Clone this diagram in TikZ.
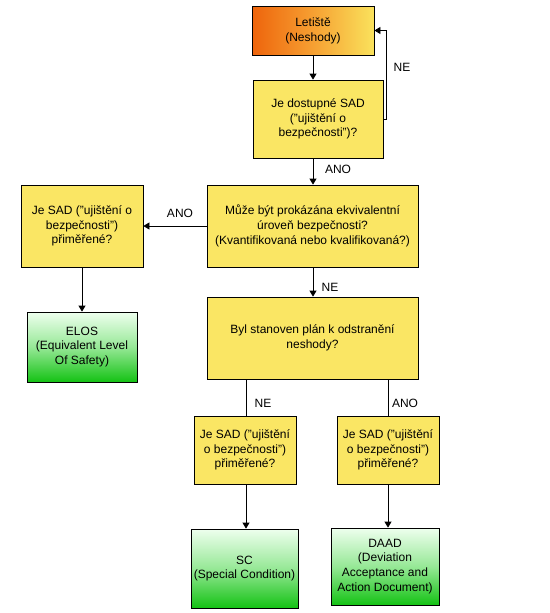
\documentclass[tikz,border=0pt]{standalone}
\usepackage{fontspec}
\setmainfont{Liberation Sans}
\usetikzlibrary{arrows.meta}
\definecolor{boxyellow}{RGB}{250,230,100}
\definecolor{orgL}{RGB}{238,100,12}
\definecolor{orgM}{RGB}{246,160,50}
\definecolor{orgR}{RGB}{250,226,92}
\definecolor{grnT}{RGB}{238,255,238}
\definecolor{grnM}{RGB}{150,232,150}
\definecolor{grnB}{RGB}{20,194,20}
\tikzset{
  box/.style={draw=black, line width=0.8pt, rectangle, align=center, inner sep=0pt,
    font=\fontsize{12}{14.8}\selectfont},
  ybox/.style={box, fill=boxyellow},
  obox/.style={box, left color=orgL, right color=orgR, middle color=orgM},
  gbox/.style={box, top color=grnT, bottom color=grnB, middle color=grnM},
  arr/.style={draw=black, line width=0.8pt, -{Triangle[length=6pt,width=7pt]}},
  ln/.style={draw=black, line width=0.8pt},
  lbl/.style={font=\fontsize{12}{14.8}\selectfont, inner sep=0pt}
}
\begin{document}
\begin{tikzpicture}[x=1pt,y=-1pt]
\useasboundingbox (0,0) rectangle (549,613);
\node[obox, minimum width=122pt, minimum height=49pt] (let) at (313,30.5) {Letiště\\(Neshody)};
\node[ybox, minimum width=130pt, minimum height=78pt] (sad) at (318,119) {Je dostupné SAD\\("ujištění o\\bezpečnosti")?};
\node[ybox, minimum width=211pt, minimum height=82pt] (q3) at (312.5,226) {Může být prokázána ekvivalentní\\úroveň bezpečnosti?\\(Kvantifikovaná nebo kvalifikovaná?)};
\node[ybox, minimum width=122pt, minimum height=82pt] (left) at (82,226) {Je SAD ("ujištění o\\bezpečnosti")\\přiměřené?};
\node[gbox, minimum width=110pt, minimum height=70pt] (elos) at (82,347) {ELOS\\(Equivalent Level\\Of Safety)};
\node[ybox, minimum width=211pt, minimum height=82pt] (plan) at (312.5,338) {Byl stanoven plán k odstranění\\neshody?};
\node[ybox, minimum width=102pt, minimum height=68pt] (sadL) at (245,450) {Je SAD ("ujištění\\o bezpečnosti")\\přiměřené?};
\node[ybox, minimum width=102pt, minimum height=68pt] (sadR) at (388,450) {Je SAD ("ujištění\\o bezpečnosti")\\přiměřené?};
\node[gbox, minimum width=107pt, minimum height=79pt] (sc) at (244.5,568.5) {SC\\(Special Condition)};
\node[gbox, minimum width=108pt, minimum height=77pt] (daad) at (385,566.5) {DAAD\\(Deviation\\Acceptance and\\Action Document)};
% connectors
\coordinate (loopR) at (386,119);
\coordinate (xa) at (313,0);
\coordinate (xl) at (246,0);
\coordinate (xr) at (388,0);
\draw[arr] (let.south) -- (let.south |- sad.north);
\draw[arr] (sad.east) -- (loopR) |- (let.east);
\draw[arr] (xa |- sad.south) -- (xa |- q3.north);
\draw[arr] (q3.west) -- (left.east);
\draw[arr] (left.south) -- (elos.north);
\draw[arr] (xa |- q3.south) -- (xa |- plan.north);
\draw[ln] (xl |- plan.south) -- (xl |- sadL.north);
\draw[ln] (xr |- plan.south) -- (xr |- sadR.north);
\draw[arr] (xl |- sadL.south) -- (xl |- sc.north);
\draw[arr] (xr |- sadR.south) -- (xr |- daad.north);
% labels
\node[lbl] (l1) at (402,67) {NE};
\node[lbl] (l2) at (338,169) {ANO};
\node[lbl] (l3) at (180,213) {ANO};
\node[lbl] (l4) at (330,287) {NE};
\node[lbl] (l5) at (263,403) {NE};
\node[lbl] (l6) at (405,403) {ANO};
\end{tikzpicture}
\end{document}
